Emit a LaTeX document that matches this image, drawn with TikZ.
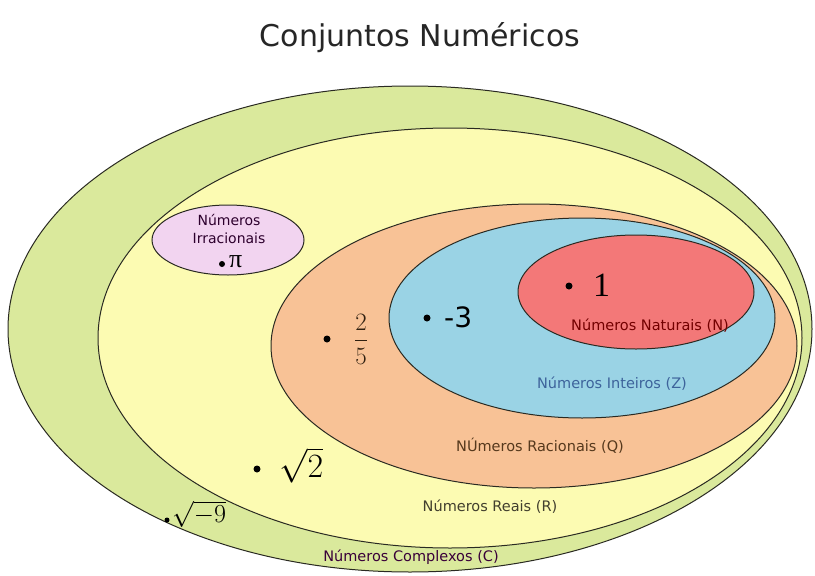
\RequirePackage{fix-cm}
\documentclass[tikz,border=0pt]{standalone}
\usepackage{fontspec}
\setmainfont{DejaVu Sans}
\newfontfamily\numfont{Liberation Serif}
\definecolor{cC}{HTML}{DAE99C}
\definecolor{cR}{HTML}{FCFBB2}
\definecolor{cI}{HTML}{F2D4F0}
\definecolor{cQ}{HTML}{F8C296}
\definecolor{cZ}{HTML}{9AD3E5}
\definecolor{cN}{HTML}{F37878}
\definecolor{lineC}{HTML}{2A2A22}
\tikzset{
  setshape/.style={draw=lineC, line width=1pt},
  lbl/.style={font=\fontsize{14.5}{17}\selectfont, inner sep=0pt},
  dotmark/.style={circle, fill=black, inner sep=0pt, minimum size=#1},
  bigval/.style={font=\numfont\fontsize{34}{36}\selectfont, inner sep=0pt}
}
\begin{document}
\begin{tikzpicture}[x=1pt,y=-1pt]
\useasboundingbox (0,0) rectangle (815,576);
\fill[white] (0,0) rectangle (815,576);
% title
\node[font=\fontsize{30}{34}\selectfont, text=black!85] (title) at (420,38) {Conjuntos Numéricos};
% sets
\draw[setshape, fill=cC] (410,329) ellipse [x radius=402, y radius=243];
\draw[setshape, fill=cR] (450,338) ellipse [x radius=352, y radius=210];
\draw[setshape, fill=cI] (228,240) ellipse [x radius=76, y radius=35];
\draw[setshape, fill=cQ] (534,346) ellipse [x radius=263, y radius=142];
\draw[setshape, fill=cZ] (582,318) ellipse [x radius=193, y radius=100];
\draw[setshape, fill=cN] (636,292) ellipse [x radius=118, y radius=57];
% irrationals
\node[lbl, font=\fontsize{14}{18}\selectfont, text=black!65!violet, align=center] (irr) at (229,229) {Números\\Irracionais};
\node[dotmark=6pt] (dpi) at (222,264) {};
\node[font=\numfont\fontsize{26}{28}\selectfont, inner sep=0pt, anchor=west] (pi) at (229,262) {π};
% naturals
\node[dotmark=7pt] (d1) at (569,286) {};
\node[bigval, anchor=west] (one) at (593,285) {1};
\node[lbl, text=black!55!red] (nat) at (650,326) {Números Naturais (N)};
% integers
\node[dotmark=7pt] (dm3) at (427,318) {};
\node[font=\fontsize{28}{30}\selectfont, inner sep=0pt, anchor=west] (m3) at (444,317) {-3};
\node[lbl, text=black!45!cyan!60!blue] (int) at (612,384) {Números Inteiros (Z)};
% rationals
\node[dotmark=7pt] (d25) at (327,339) {};
\node[font=\fontsize{25}{27}\selectfont, inner sep=0pt, text=black!75!brown] (frac) at (361,339) {$\displaystyle\frac{2}{5}$};
\node[lbl, text=black!55!brown] (rac) at (540,446) {NÚmeros Racionais (Q)};
% reals
\node[dotmark=7pt] (ds2) at (257,469) {};
\node[font=\fontsize{34}{36}\selectfont, inner sep=0pt, anchor=west] (s2) at (279,465) {$\sqrt{2}$};
\node[lbl, text=black!70!olive] (rea) at (490,507) {Números Reais (R)};
% complex
\node[dotmark=5pt] (ds9) at (167,520) {};
\node[font=\fontsize{26}{28}\selectfont, inner sep=0pt, anchor=west] (s9) at (172,514) {$\sqrt{-9}$};
\node[lbl, text=black!55!violet] (com) at (411,557) {Números Complexos (C)};
\end{tikzpicture}
\end{document}
